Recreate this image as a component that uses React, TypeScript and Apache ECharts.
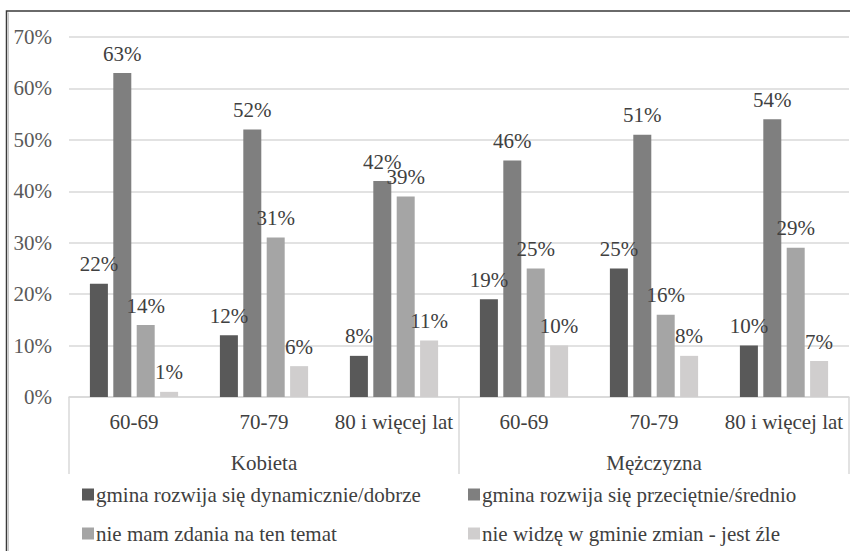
import React, { useEffect, useRef } from "react";
import * as echarts from "echarts";

const ageGroups = ["60-69", "70-79", "80 i więcej lat", "60-69", "70-79", "80 i więcej lat"];
const genders = ["Kobieta", "Mężczyzna"];
const seriesNames = [
  "gmina rozwija się dynamicznie/dobrze",
  "gmina rozwija się przeciętnie/średnio",
  "nie mam zdania na ten temat",
  "nie widzę w gminie zmian - jest źle",
];
const dynamicznie = [22, 12, 8, 19, 25, 10];
const przecietnie = [63, 52, 42, 46, 51, 54];
const brakZdania = [14, 31, 39, 25, 16, 29];
const zle = [1, 6, 11, 10, 8, 7];
const yTicks = { min: 0, max: 70, interval: 10 };
const colors = ["#595959", "#7f7f7f", "#a5a5a5", "#d0cece"];

const FONT = "'Liberation Serif', 'DejaVu Serif', 'Times New Roman', serif";
const FS = 21;

export default function App() {
  const ref = useRef<HTMLDivElement>(null);
  useEffect(() => {
    if (!ref.current) return;
    const chart = echarts.init(ref.current, null, { renderer: "svg" });
    const values = [dynamicznie, przecietnie, brakZdania, zle];
    const series = values.map((vals, i) => ({
      name: seriesNames[i],
      type: "bar",
      xAxisIndex: 0,
      yAxisIndex: 0,
      data: vals,
      barWidth: 18,
      barGap: "30%",
      itemStyle: { color: colors[i] },
      label: {
        show: true,
        position: "top",
        distance: 9,
        formatter: "{c}%",
        color: "#404040",
        fontFamily: FONT,
        fontSize: FS,
      },
    }));
    const legendPos = [
      { left: 82, top: 484 },
      { left: 468, top: 484 },
      { left: 82, top: 523 },
      { left: 468, top: 523 },
    ];
    const legends = seriesNames.map((name, i) => ({
      show: true,
      orient: "horizontal",
      left: legendPos[i].left,
      top: legendPos[i].top,
      padding: 0,
      itemWidth: 12,
      itemHeight: 12,
      itemGap: 0,
      icon: "rect",
      selectedMode: false,
      data: [name],
      textStyle: { color: "#404040", fontFamily: FONT, fontSize: FS, padding: [0, 0, 0, -3] },
    }));
    chart.setOption({
      animation: false,
      backgroundColor: "#ffffff",
      textStyle: { fontFamily: FONT },
      grid: { left: 69, right: 1, top: 37, bottom: 154 },
      xAxis: [
        {
          type: "category",
          data: ageGroups,
          position: "bottom",
          axisLine: { show: true, lineStyle: { color: "#d9d9d9", width: 1.5 } },
          axisTick: { show: false },
          axisLabel: { color: "#404040", fontFamily: FONT, fontSize: FS, margin: 14, interval: 0 },
        },
        {
          type: "category",
          data: genders,
          position: "bottom",
          axisLine: { show: false },
          axisTick: { show: true, length: 77, lineStyle: { color: "#d9d9d9", width: 1.5 } },
          axisLabel: { color: "#404040", fontFamily: FONT, fontSize: FS, margin: 55 },
        },
      ],
      yAxis: {
        type: "value",
        min: yTicks.min,
        max: yTicks.max,
        interval: yTicks.interval,
        axisLine: { show: false },
        axisTick: { show: false },
        splitLine: { lineStyle: { color: "#d9d9d9", width: 1.5 } },
        axisLabel: { formatter: "{value}%", color: "#595959", fontFamily: FONT, fontSize: FS, margin: 17 },
      },
      legend: legends,
      graphic: [
        {
          type: "rect",
          shape: { x: 6.5, y: 11, width: 900, height: 600 },
          style: { fill: "none", stroke: "#3a3a3a", lineWidth: 1.5 },
          silent: true,
        },
        {
          type: "line",
          shape: { x1: 8.5, y1: 12.5, x2: 8.5, y2: 551 },
          style: { stroke: "#c8c8c8", lineWidth: 1 },
          silent: true,
        },
      ],
      series,
    });
    return () => chart.dispose();
  }, []);
  return (
    <div
      ref={ref}
      style={{ position: "absolute", left: 0, top: 0, width: 850, height: 551 }}
    />
  );
}
